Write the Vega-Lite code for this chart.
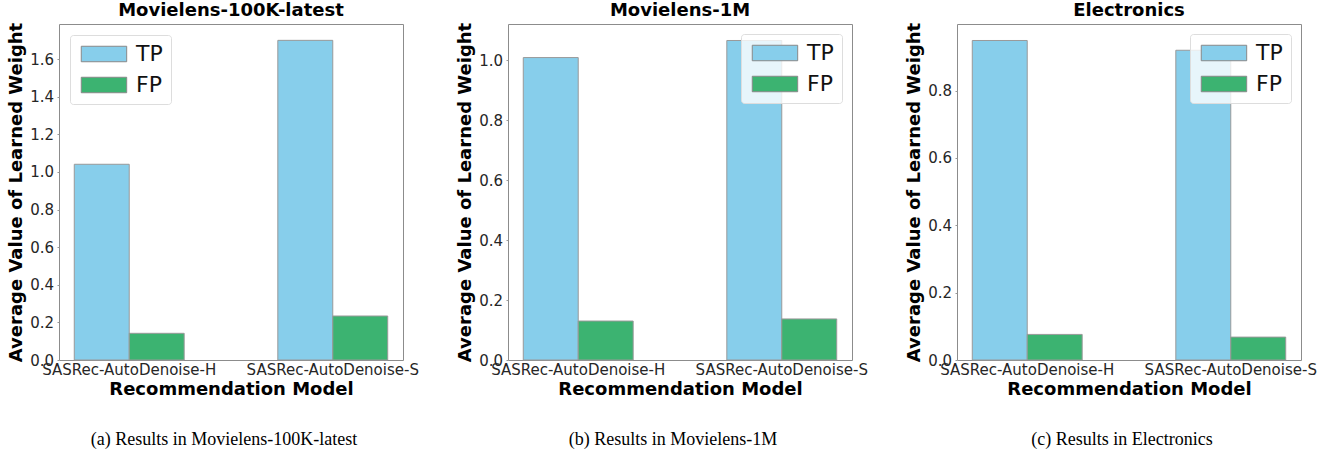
{
  "$schema": "https://vega.github.io/schema/vega-lite/v6.json",
  "background": "white",
  "padding": {"left": 7, "top": 1, "right": 5, "bottom": 2},
  "datasets": {
    "w": [
      {"dataset": "ml100k", "model": "SASRec-AutoDenoise-H", "type": "TP", "value": 1.041},
      {"dataset": "ml100k", "model": "SASRec-AutoDenoise-H", "type": "FP", "value": 0.142},
      {"dataset": "ml100k", "model": "SASRec-AutoDenoise-S", "type": "TP", "value": 1.700},
      {"dataset": "ml100k", "model": "SASRec-AutoDenoise-S", "type": "FP", "value": 0.234},
      {"dataset": "ml1m", "model": "SASRec-AutoDenoise-H", "type": "TP", "value": 1.009},
      {"dataset": "ml1m", "model": "SASRec-AutoDenoise-H", "type": "FP", "value": 0.130},
      {"dataset": "ml1m", "model": "SASRec-AutoDenoise-S", "type": "TP", "value": 1.066},
      {"dataset": "ml1m", "model": "SASRec-AutoDenoise-S", "type": "FP", "value": 0.137},
      {"dataset": "elec", "model": "SASRec-AutoDenoise-H", "type": "TP", "value": 0.949},
      {"dataset": "elec", "model": "SASRec-AutoDenoise-H", "type": "FP", "value": 0.076},
      {"dataset": "elec", "model": "SASRec-AutoDenoise-S", "type": "TP", "value": 0.920},
      {"dataset": "elec", "model": "SASRec-AutoDenoise-S", "type": "FP", "value": 0.068}
    ]
  },
  "config": {
    "font": "DejaVu Sans",
    "view": {"stroke": "#8c8c8c", "strokeWidth": 1},
    "axis": {
      "grid": false, "domain": false,
      "labelFont": "DejaVu Sans", "labelFontSize": 15, "labelColor": "#262626",
      "titleFont": "DejaVu Sans", "titleFontSize": 18, "titleFontWeight": "bold", "titleColor": "#000",
      "tickColor": "#999", "tickSize": 2
    },
    "title": {"font": "DejaVu Sans", "fontSize": 18, "fontWeight": "bold", "color": "#000", "offset": 2},
    "legend": {
      "title": null,
      "padding": 8,
      "fillColor": "rgba(255,255,255,0.8)",
      "strokeColor": "#dddddd",
      "cornerRadius": 3,
      "symbolType": "M-1,-1H4.867V1H-1Z",
      "symbolSize": 240,
      "symbolStrokeColor": "#888",
      "symbolStrokeWidth": 1,
      "symbolOpacity": 1,
      "labelFont": "DejaVu Sans",
      "labelFontSize": 22,
      "labelColor": "#111",
      "labelOffset": 36,
      "rowPadding": 9
    },
    "concat": {"spacing": 37}
  },
  "resolve": {"scale": {"color": "independent"}, "legend": {"color": "independent"}},
  "hconcat": [
    {
      "title": {"text": "(a)  Results in Movielens-100K-latest", "orient": "bottom", "font": "Liberation Serif", "fontSize": 18, "fontWeight": "normal", "offset": 32, "anchor": "middle", "dx": 11},
      "resolve": {"scale": {"color": "independent"}, "legend": {"color": "independent"}},
      "vconcat": [
        {
          "title": {"text": "Movielens-100K-latest"},
          "width": 344, "height": 336,
          "data": {"name": "w"},
          "transform": [{"filter": "datum.dataset === 'ml100k'"}],
          "mark": {"type": "bar", "stroke": "#999", "strokeWidth": 1},
          "encoding": {
            "x": {"field": "model", "type": "nominal", "scale": {"paddingInner": 0.46, "paddingOuter": 0.075}, "axis": {"title": "Recommendation Model", "labelAngle": 0, "ticks": false, "labelPadding": 2, "titlePadding": 3}},
            "xOffset": {"field": "type", "sort": ["TP", "FP"], "scale": {"paddingInner": 0, "paddingOuter": 0}},
            "y": {"field": "value", "type": "quantitative", "scale": {"domain": [0, 1.787], "nice": false}, "axis": {"title": "Average Value of Learned Weight", "values": [0, 0.2, 0.4, 0.6, 0.8, 1.0, 1.2, 1.4, 1.6], "format": ".1f", "labelPadding": 3.5, "titlePadding": 4}},
            "color": {"field": "type", "sort": ["TP", "FP"], "scale": {"domain": ["TP", "FP"], "range": ["#87CEEB", "#3CB371"]}, "legend": {"orient": "top-left", "offset": 11}}
          }
        }
      ]
    },
    {
      "title": {"text": "(b)  Results in Movielens-1M", "orient": "bottom", "font": "Liberation Serif", "fontSize": 18, "fontWeight": "normal", "offset": 32, "anchor": "middle", "dx": 11},
      "resolve": {"scale": {"color": "independent"}, "legend": {"color": "independent"}},
      "vconcat": [
        {
          "title": {"text": "Movielens-1M"},
          "width": 344, "height": 336,
          "data": {"name": "w"},
          "transform": [{"filter": "datum.dataset === 'ml1m'"}],
          "mark": {"type": "bar", "stroke": "#999", "strokeWidth": 1},
          "encoding": {
            "x": {"field": "model", "type": "nominal", "scale": {"paddingInner": 0.46, "paddingOuter": 0.075}, "axis": {"title": "Recommendation Model", "labelAngle": 0, "ticks": false, "labelPadding": 2, "titlePadding": 3}},
            "xOffset": {"field": "type", "sort": ["TP", "FP"], "scale": {"paddingInner": 0, "paddingOuter": 0}},
            "y": {"field": "value", "type": "quantitative", "scale": {"domain": [0, 1.121], "nice": false}, "axis": {"title": "Average Value of Learned Weight", "values": [0, 0.2, 0.4, 0.6, 0.8, 1.0], "format": ".1f", "labelPadding": 3.5, "titlePadding": 4}},
            "color": {"field": "type", "sort": ["TP", "FP"], "scale": {"domain": ["TP", "FP"], "range": ["#87CEEB", "#3CB371"]}, "legend": {"orient": "top-right", "offset": 10}}
          }
        }
      ]
    },
    {
      "title": {"text": "(c)  Results in Electronics", "orient": "bottom", "font": "Liberation Serif", "fontSize": 18, "fontWeight": "normal", "offset": 32, "anchor": "middle", "dx": 11},
      "resolve": {"scale": {"color": "independent"}, "legend": {"color": "independent"}},
      "vconcat": [
        {
          "title": {"text": "Electronics"},
          "width": 344, "height": 336,
          "data": {"name": "w"},
          "transform": [{"filter": "datum.dataset === 'elec'"}],
          "mark": {"type": "bar", "stroke": "#999", "strokeWidth": 1},
          "encoding": {
            "x": {"field": "model", "type": "nominal", "scale": {"paddingInner": 0.46, "paddingOuter": 0.075}, "axis": {"title": "Recommendation Model", "labelAngle": 0, "ticks": false, "labelPadding": 2, "titlePadding": 3}},
            "xOffset": {"field": "type", "sort": ["TP", "FP"], "scale": {"paddingInner": 0, "paddingOuter": 0}},
            "y": {"field": "value", "type": "quantitative", "scale": {"domain": [0, 0.998], "nice": false}, "axis": {"title": "Average Value of Learned Weight", "values": [0, 0.2, 0.4, 0.6, 0.8], "format": ".1f", "labelPadding": 3.5, "titlePadding": 4}},
            "color": {"field": "type", "sort": ["TP", "FP"], "scale": {"domain": ["TP", "FP"], "range": ["#87CEEB", "#3CB371"]}, "legend": {"orient": "top-right", "offset": 10}}
          }
        }
      ]
    }
  ]
}
